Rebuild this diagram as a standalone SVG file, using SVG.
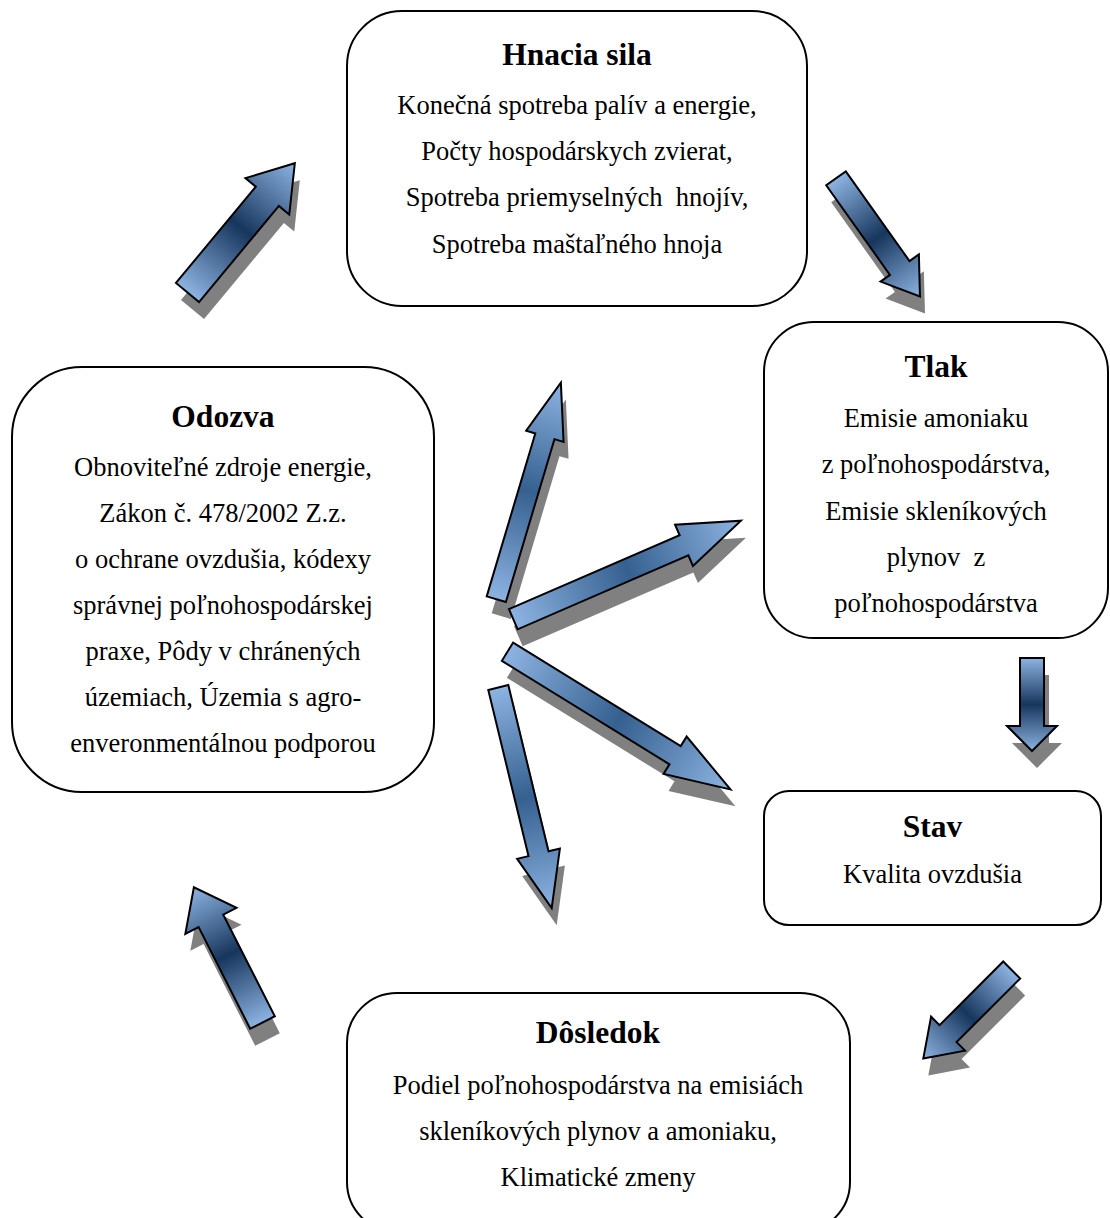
<svg xmlns="http://www.w3.org/2000/svg" xmlns:xlink="http://www.w3.org/1999/xlink" width="1110" height="1218" viewBox="0 0 1110 1218">
  <style>
    .box { fill: #ffffff; stroke: #000000; stroke-width: 2; }
    .title { font-family: "Liberation Serif", "Times New Roman", serif; font-weight: bold; font-size: 31.5px; text-anchor: middle; fill: #000; }
    .body { font-family: "Liberation Serif", "Times New Roman", serif; font-size: 26.5px; text-anchor: middle; fill: #000; white-space: pre; }
    .shadow { fill: #808080; }
    .outer { fill: url(#gradOuter); stroke: #000; stroke-width: 2; stroke-linejoin: miter; }
    .inner { fill: url(#gradInner); stroke: #000; stroke-width: 2; stroke-linejoin: miter; }
  </style>
  <defs>
    <!-- colour runs along the arrow: light at both ends, dark in the middle -->
    <linearGradient id="gradOuter" x1="0" y1="0" x2="1" y2="0">
      <stop offset="0" stop-color="#8DB3E2"/>
      <stop offset="0.5" stop-color="#17365D"/>
      <stop offset="1" stop-color="#8DB3E2"/>
    </linearGradient>
    <linearGradient id="gradInner" x1="0" y1="0" x2="1" y2="0">
      <stop offset="0" stop-color="#8DB3E2"/>
      <stop offset="0.5" stop-color="#35608F"/>
      <stop offset="1" stop-color="#8DB3E2"/>
    </linearGradient>
    <!-- block arrows drawn along +x from the tail at the origin -->
    <polygon id="a1" points="0,-15 125,-15 125,-28.5 168,0 125,28.5 125,15 0,15"/>
    <polygon id="a2" points="0,-12 110,-12 110,-23.5 145,0 110,23.5 110,12 0,12"/>
    <polygon id="a3" points="0,-12 68,-12 68,-25 93,0 68,25 68,12 0,12"/>
    <polygon id="a4" points="0,-12 90,-12 90,-24 125,0 90,24 90,12 0,12"/>
    <polygon id="a5" points="0,-13.8 114,-13.8 114,-28.7 151.6,0 114,28.7 114,13.8 0,13.8"/>
    <polygon id="a6" points="0,-10 170,-10 170,-19.5 226,0 170,19.5 170,10 0,10"/>
    <polygon id="a7" points="0,-11 186,-11 186,-22.5 248,0 186,22.5 186,11 0,11"/>
    <polygon id="a8" points="0,-10.7 197,-10.7 197,-22 262,0 197,22 197,10.7 0,10.7"/>
    <polygon id="a9" points="0,-10.3 171,-10.3 171,-22 227,0 171,22 171,10.3 0,10.3"/>
  </defs>

  <!-- connectors -->
  <g id="connectors">
    <g id="shadows" transform="translate(5,17)">
      <use xlink:href="#a1" class="shadow" transform="translate(187.5,292.5) rotate(-50.3)"/>
      <use xlink:href="#a2" class="shadow" transform="translate(836,178.3) rotate(54.6)"/>
      <use xlink:href="#a3" class="shadow" transform="translate(1032,658) rotate(90)"/>
      <use xlink:href="#a4" class="shadow" transform="translate(1011.7,970) rotate(135)"/>
      <use xlink:href="#a5" class="shadow" transform="translate(262.5,1022.5) rotate(-116.9)"/>
      <use xlink:href="#a6" class="shadow" transform="translate(496.3,599.2) rotate(-73.4)"/>
      <use xlink:href="#a7" class="shadow" transform="translate(513.3,619.2) rotate(-23.4)"/>
      <use xlink:href="#a8" class="shadow" transform="translate(507.5,651.7) rotate(31.7)"/>
      <use xlink:href="#a9" class="shadow" transform="translate(498.3,687.5) rotate(76.4)"/>
    </g>
    <use id="arrow-odozva-hnacia" xlink:href="#a1" class="outer" transform="translate(187.5,292.5) rotate(-50.3)"/>
    <use id="arrow-hnacia-tlak" xlink:href="#a2" class="outer" transform="translate(836,178.3) rotate(54.6)"/>
    <use id="arrow-tlak-stav" xlink:href="#a3" class="outer" transform="translate(1032,658) rotate(90)"/>
    <use id="arrow-stav-dosledok" xlink:href="#a4" class="outer" transform="translate(1011.7,970) rotate(135)"/>
    <use id="arrow-dosledok-odozva" xlink:href="#a5" class="outer" transform="translate(262.5,1022.5) rotate(-116.9)"/>
    <use id="arrow-to-hnacia" xlink:href="#a6" class="inner" transform="translate(496.3,599.2) rotate(-73.4)"/>
    <use id="arrow-to-tlak" xlink:href="#a7" class="inner" transform="translate(513.3,619.2) rotate(-23.4)"/>
    <use id="arrow-to-stav" xlink:href="#a8" class="inner" transform="translate(507.5,651.7) rotate(31.7)"/>
    <use id="arrow-to-dosledok" xlink:href="#a9" class="inner" transform="translate(498.3,687.5) rotate(76.4)"/>
  </g>

  <g id="hnacia-sila">
    <rect class="box" x="347" y="11" width="460" height="295" rx="55" ry="55"/>
    <text class="title" x="577" y="65">Hnacia sila</text>
    <text class="body" x="577" y="114">Konečná spotreba palív a energie,</text>
    <text class="body" x="577" y="160">Počty hospodárskych zvierat,</text>
    <text class="body" x="577" y="206">Spotreba priemyselných  hnojív,</text>
    <text class="body" x="577" y="253">Spotreba maštaľného hnoja</text>
  </g>

  <g id="tlak">
    <rect class="box" x="764" y="322" width="344" height="316" rx="50" ry="50"/>
    <text class="title" x="936" y="377">Tlak</text>
    <text class="body" x="936" y="427">Emisie amoniaku</text>
    <text class="body" x="936" y="473">z poľnohospodárstva,</text>
    <text class="body" x="936" y="520">Emisie skleníkových</text>
    <text class="body" x="936" y="566">plynov  z</text>
    <text class="body" x="936" y="612">poľnohospodárstva</text>
  </g>

  <g id="stav">
    <rect class="box" x="764" y="791" width="337" height="134" rx="25" ry="25"/>
    <text class="title" x="932.5" y="837">Stav</text>
    <text class="body" x="932.5" y="883">Kvalita ovzdušia</text>
  </g>

  <g id="dosledok">
    <rect class="box" x="347" y="993" width="503" height="239" rx="50" ry="50"/>
    <text class="title" x="598" y="1043">Dôsledok</text>
    <text class="body" x="598" y="1094">Podiel poľnohospodárstva na emisiách</text>
    <text class="body" x="598" y="1140">skleníkových plynov a amoniaku,</text>
    <text class="body" x="598" y="1186">Klimatické zmeny</text>
  </g>

  <g id="odozva">
    <rect class="box" x="12" y="367" width="422" height="425" rx="70" ry="70"/>
    <text class="title" x="223" y="427">Odozva</text>
    <text class="body" x="223" y="476">Obnoviteľné zdroje energie,</text>
    <text class="body" x="223" y="522">Zákon č. 478/2002 Z.z.</text>
    <text class="body" x="223" y="568">o ochrane ovzdušia, kódexy</text>
    <text class="body" x="223" y="614">správnej poľnohospodárskej</text>
    <text class="body" x="223" y="660">praxe, Pôdy v chránených</text>
    <text class="body" x="223" y="706">územiach, Územia s agro-</text>
    <text class="body" x="223" y="752">enveronmentálnou podporou</text>
  </g>
</svg>
